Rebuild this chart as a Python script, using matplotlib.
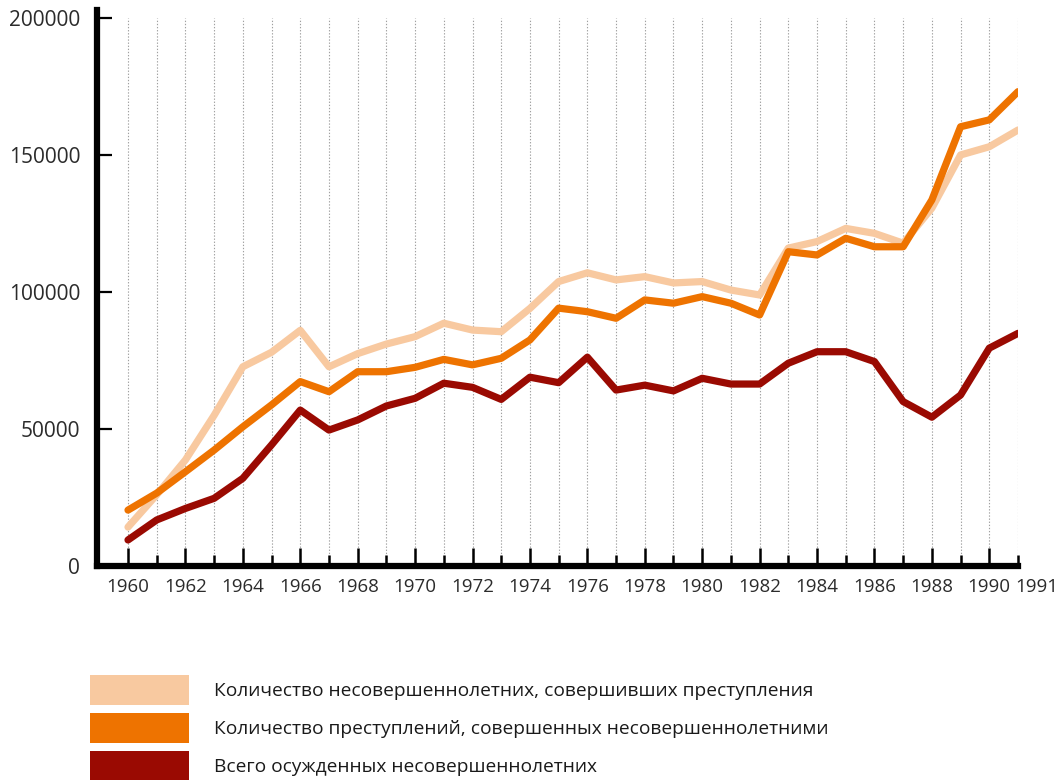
import matplotlib
matplotlib.use('Agg')
import matplotlib.pyplot as plt
from matplotlib.patches import Patch
from matplotlib.transforms import ScaledTranslation

plt.rcParams['font.family'] = ['Open Sans', 'DejaVu Sans']

years = list(range(1960, 1992))

# Количество несовершеннолетних, совершивших преступления
offenders = [14200, 26000, 38700, 55000, 72700, 78000, 86000, 72700, 77500, 81000,
             83700, 88600, 86100, 85500, 94000, 103800, 107000, 104400, 105600, 103300,
             103800, 100700, 98900, 116000, 118400, 123200, 121400, 117800, 130600, 150000,
             153000, 159100]

# Количество преступлений, совершенных несовершеннолетними
crimes = [20400, 26600, 34400, 42300, 50800, 58800, 67300, 63600, 70900, 70900,
          72500, 75400, 73400, 75800, 82500, 94100, 92800, 90400, 97100, 95900,
          98300, 95900, 91600, 114700, 113500, 119600, 116500, 116500, 133600, 160300,
          162800, 173100]

# Всего осужденных несовершеннолетних
convicted = [9500, 16800, 21000, 24700, 32000, 44200, 56900, 49600, 53300, 58400,
             61200, 66700, 65200, 60800, 68900, 66900, 76200, 64200, 66000, 63900,
             68500, 66400, 66400, 74000, 78200, 78200, 74600, 60000, 54300, 62400,
             79500, 84900]

labels = ['Количество несовершеннолетних, совершивших преступления',
          'Количество преступлений, совершенных несовершеннолетними',
          'Всего осужденных несовершеннолетних']
colors = ['#F8C9A0', '#EE7300', '#9A0A02']

yticks = [0, 50000, 100000, 150000, 200000]

fig = plt.figure(figsize=(10.56, 7.8), dpi=100)
ax = fig.add_axes([97 / 1056, 1 - 566 / 780, (1018 - 97) / 1056, (566 - 10) / 780])

# dotted year grid
ax.vlines(years, 0, 200000, colors='#a0a0a0', linestyles=(0, (1.2, 1.6)), linewidth=0.8, zorder=1)

for series, col in zip([offenders, crimes, convicted], colors):
    ax.plot(years, series, color=col, linewidth=5.2, solid_joinstyle='round',
            solid_capstyle='round', zorder=3)

ax.set_xlim(1958.92, 1991)
ax.set_ylim(0, 202900)

for s in ['top', 'right']:
    ax.spines[s].set_visible(False)
for s in ['left', 'bottom']:
    ax.spines[s].set_linewidth(4.5)
    ax.spines[s].set_color('black')

ax.set_yticks(yticks, [str(v) for v in yticks])
even_years = [y for y in years if y % 2 == 0]
odd_years = [y for y in years if y % 2 == 1]
ax.set_xticks(even_years, [str(y) for y in even_years])
ax.set_xticks(odd_years, ['1991' if y == 1991 else '' for y in odd_years], minor=True)

ax.tick_params(axis='y', direction='in', length=11, width=1.6, pad=12,
               labelsize=15, labelcolor='#2b2b2b')
ax.tick_params(axis='x', which='major', direction='in', length=13, width=1.8, pad=9,
               labelsize=13.5, labelcolor='#2b2b2b')
ax.tick_params(axis='x', which='minor', direction='in', length=8, width=1.8, pad=9,
               labelsize=13.5, labelcolor='#2b2b2b')

# last label sits to the right of its tick
for lbl in ax.get_xticklabels(minor=True):
    if lbl.get_text() == '1991':
        lbl.set_horizontalalignment('left')
        lbl.set_transform(lbl.get_transform() + ScaledTranslation(-3 / 100, 0, fig.dpi_scale_trans))

handles = [Patch(facecolor=c, edgecolor='none') for c in colors]
fig.legend(handles, labels, loc='upper left', bbox_to_anchor=(0.085, 0.135),
           frameon=False, fontsize=13.8, handlelength=5.2, handleheight=2.03,
           handletextpad=1.3, labelspacing=0.42, borderpad=0, borderaxespad=0,
           labelcolor='#1a1a1a')

fig.savefig('out.png', dpi=100)
